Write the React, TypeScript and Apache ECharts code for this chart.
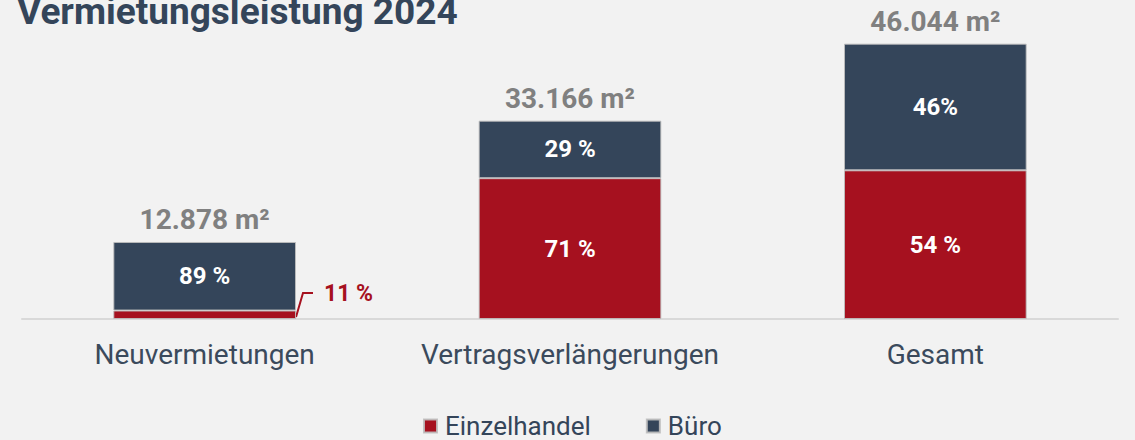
import React, { useEffect, useRef } from "react";
import * as echarts from "echarts";

const categories = ["Neuvermietungen", "Vertragsverlängerungen", "Gesamt"];
const totals = [12878, 33166, 46044];
const totalLabels = ["12.878 m²", "33.166 m²", "46.044 m²"];
const einzelShare = [11, 71, 54];
const bueroShare = [89, 29, 46];
const einzelLabels = ["11 %", "71 %", "54 %"];
const bueroLabels = ["89 %", "29 %", "46%"];

const NAVY = "#34455a";
const RED = "#a6111f";
const FONT = "Roboto";

export default function App() {
  const ref = useRef<HTMLDivElement>(null);
  useEffect(() => {
    document.body.style.margin = "0";
    const chart = echarts.init(ref.current!, null, { renderer: "svg" });
    const einzelValues = totals.map((t, i) => (t * einzelShare[i]) / 100);
    const bueroValues = totals.map((t, i) => (t * bueroShare[i]) / 100);
    const border = { borderColor: "rgba(190,190,190,0.9)", borderWidth: 1 };
    chart.setOption({
      animation: false,
      backgroundColor: "#f2f2f2",
      textStyle: { fontFamily: FONT },
      title: {
        text: "Vermietungsleistung 2024",
        left: 12,
        top: -12,
        textStyle: { fontFamily: FONT, fontSize: 37, fontWeight: "bold", color: NAVY },
      },
      legend: {
        data: ["Einzelhandel", "Büro"],
        bottom: -4,
        left: 418,
        icon: "rect",
        itemWidth: 13,
        itemHeight: 13,
        itemGap: 55,
        textStyle: { fontFamily: FONT, fontSize: 26, color: NAVY, padding: [0, 0, 0, 3] },
      },
      grid: { left: 22, right: 17, top: 20, bottom: 121 },
      xAxis: {
        type: "category",
        data: categories,
        axisTick: { show: false },
        axisLine: { lineStyle: { color: "#d9d9d9", width: 2 } },
        axisLabel: { interval: 0, fontFamily: FONT, fontSize: 28, color: "#3b4a5c", margin: 21 },
      },
      yAxis: { type: "value", min: 0, max: 50000, show: false, splitLine: { show: false } },
      series: [
        {
          name: "Einzelhandel",
          type: "bar",
          stack: "t",
          barWidth: "50%",
          itemStyle: { color: RED, ...border },
          data: einzelValues.map((v, i) => ({
            value: v,
            label: { show: i > 0 },
          })),
          label: {
            position: "inside",
            fontFamily: FONT,
            fontSize: 24,
            fontWeight: "bold",
            color: "#ffffff",
            formatter: (p: any) => einzelLabels[p.dataIndex],
          },
        },
        {
          name: "Büro",
          type: "bar",
          stack: "t",
          barWidth: "50%",
          itemStyle: { color: NAVY, ...border },
          data: bueroValues,
          label: {
            show: true,
            position: "inside",
            fontFamily: FONT,
            fontSize: 24,
            fontWeight: "bold",
            color: "#ffffff",
            formatter: (p: any) => bueroLabels[p.dataIndex],
          },
        },
        {
          name: "totals",
          type: "custom",
          silent: true,
          data: totals.map((t, i) => [i, t]),
          encode: { x: 0, y: 1 },
          renderItem: (params: any, api: any) => {
            const i = api.value(0);
            const top = api.coord([i, api.value(1)]);
            const base = api.coord([i, 0]);
            const band = api.size([1, 0])[0];
            const children: any[] = [
              {
                type: "text",
                x: top[0],
                y: top[1] - 8,
                style: {
                  text: totalLabels[i],
                  fill: "#808080",
                  fontFamily: FONT,
                  fontSize: 28,
                  fontWeight: "bold",
                  align: "center",
                  verticalAlign: "bottom",
                },
              },
            ];
            if (i === 0) {
              const right = base[0] + band * 0.25;
              const ly = base[1] - 26;
              children.push({
                type: "polyline",
                shape: {
                  points: [
                    [right, base[1] - 2],
                    [right + 7, ly],
                    [right + 17, ly],
                  ],
                },
                style: { stroke: RED, lineWidth: 2, fill: null },
              });
              children.push({
                type: "text",
                x: right + 28,
                y: ly,
                style: {
                  text: einzelLabels[0],
                  fill: RED,
                  fontFamily: FONT,
                  fontSize: 23,
                  fontWeight: "bold",
                  align: "left",
                  verticalAlign: "middle",
                },
              });
            }
            return { type: "group", children };
          },
        },
      ],
    });
    return () => chart.dispose();
  }, []);
  return <div ref={ref} style={{ width: 1135, height: 440 }} />;
}
